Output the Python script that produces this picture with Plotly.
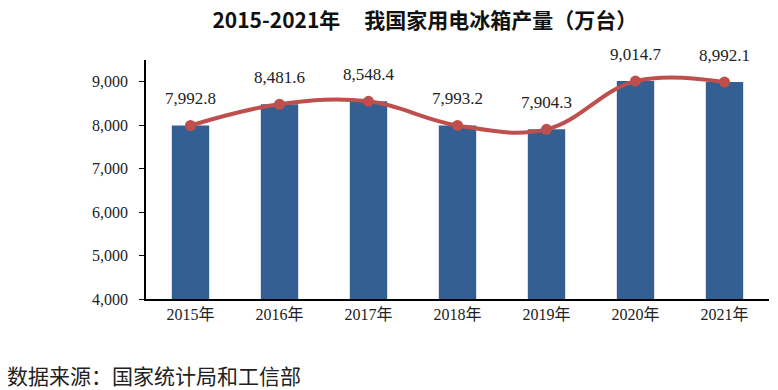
import plotly.graph_objects as go

years = ["2015年", "2016年", "2017年", "2018年", "2019年", "2020年", "2021年"]
production = [7992.8, 8481.6, 8548.4, 7993.2, 7904.3, 9014.7, 8992.1]
labels = ["7,992.8", "8,481.6", "8,548.4", "7,993.2", "7,904.3", "9,014.7", "8,992.1"]
y_ticks = [4000, 5000, 6000, 7000, 8000, 9000]
y_tick_text = ["4,000", "5,000", "6,000", "7,000", "8,000", "9,000"]

serif = "Liberation Serif, Times New Roman, serif"
cjk = "Noto Sans CJK SC"

fig = go.Figure()
fig.add_trace(go.Bar(x=years, y=production, marker=dict(color="#345F92", line=dict(width=0)),
                     width=0.42, base=0, hoverinfo="skip"))
fig.add_trace(go.Scatter(x=years, y=production, mode="lines+markers",
                         line=dict(color="#BE4F4C", width=4, shape="spline", smoothing=1.1),
                         marker=dict(size=11, color="#BE4F4C"), hoverinfo="skip"))

for yr, v, t in zip(years, production, labels):
    fig.add_annotation(x=yr, y=v, text=t, showarrow=False, yshift=27,
                       font=dict(family=serif, size=17, color="#222"))

fig.update_layout(
    width=778, height=390,
    margin=dict(l=146, r=9, t=60, b=91, autoexpand=False),
    plot_bgcolor="white", paper_bgcolor="white",
    showlegend=False, bargap=0.5,
    title=dict(text="<b>2015-2021年     我国家用电冰箱产量（万台）</b>", x=0.546, xanchor="center",
               y=0.948, yanchor="middle", xref="container", yref="container",
               font=dict(family=cjk, size=21, color="#111")),
    xaxis=dict(showline=True, linecolor="black", linewidth=1.5, ticks="", automargin=False,
               tickfont=dict(family=serif + ", " + cjk, size=16, color="#222"),
               showgrid=False),
    yaxis=dict(range=[4000, 9500], tickvals=y_ticks, ticktext=y_tick_text, automargin=False,
               showline=True, linecolor="black", linewidth=1.5, ticks="outside",
               ticklen=5, tickcolor="black", showgrid=False, zeroline=False,
               ticklabelstandoff=8,
               tickfont=dict(family=serif, size=16, color="#222")),
)
fig.add_annotation(xref="paper", yref="paper", x=-0.227, y=0, yshift=-76, xanchor="left",
                   yanchor="middle",
                   text="数据来源：国家统计局和工信部", showarrow=False,
                   font=dict(family=cjk, size=21, color="#222"))
fig.write_html("out.html", config={"displayModeBar": False},
               post_script="document.body.style.margin='0';document.body.style.overflow='hidden';")
